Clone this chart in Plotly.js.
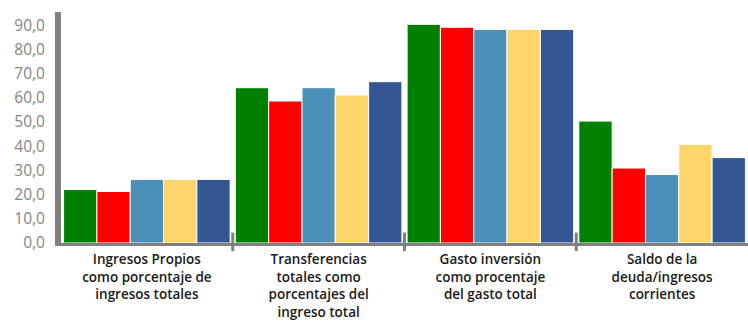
<!DOCTYPE html>
<html>
<head>
<meta charset="utf-8">
<script src="https://cdn.plot.ly/plotly-3.0.1.min.js"></script>
<style>html,body{margin:0;padding:0;background:#fff}#chart{width:748px;height:322px}</style>
</head>
<body>
<div id="chart"></div>
<script>
const categories = [
  "Ingresos Propios<br>como porcentaje de<br>ingresos totales",
  "Transferencias<br>totales como<br>porcentajes del<br>ingreso total",
  "Gasto inversión<br>como procentaje<br>del gasto total",
  "Saldo de la<br>deuda/ingresos<br>corrientes"
];
const series1 = [22.1, 64.2, 90.4, 50.4];
const series2 = [21.3, 58.7, 89.2, 31.0];
const series3 = [26.3, 64.2, 88.3, 28.3];
const series4 = [26.3, 61.2, 88.3, 40.8];
const series5 = [26.3, 66.7, 88.3, 35.3];
const colors = ["#008000", "#FF0000", "#4A90B8", "#FDD66A", "#345794"];
const allSeries = [series1, series2, series3, series4, series5];

const traces = allSeries.map((s, i) => ({
  type: "bar",
  x: categories,
  y: s,
  marker: {color: colors[i], line: {color: "#ffffff", width: 1}},
  hoverinfo: "y",
  showlegend: false
}));

const dividers = [0.5, 1.5, 2.5].map(v => ({
  type: "line", xref: "x", yref: "paper",
  x0: v, x1: v, y0: -0.035, y1: 0.045,
  line: {color: "#808080", width: 3}
}));

const layout = {
  width: 748, height: 322,
  margin: {l: 61, r: 0, t: 12, b: 79},
  paper_bgcolor: "#ffffff",
  plot_bgcolor: "rgba(0,0,0,0)",
  barmode: "group",
  bargap: 0.03,
  bargroupgap: 0,
  font: {family: "Open Sans, sans-serif"},
  xaxis: {
    type: "category",
    showline: true, linecolor: "#808080", linewidth: 3,
    ticks: "", showgrid: false, zeroline: false,
    tickfont: {family: "Open Sans", size: 13.5, color: "#1a1a1a", weight: 600},
    tickangle: 0,
    ticklabelstandoff: 2,
    fixedrange: true
  },
  yaxis: {
    range: [0, 95.5],
    dtick: 10, tick0: 0,
    tickformat: ".1f",
    showline: true, linecolor: "#808080", linewidth: 6,
    showgrid: false, zeroline: false, ticks: "",
    tickfont: {family: "Open Sans", size: 15.5, color: "#858585"},
    ticklabelstandoff: 7,
    fixedrange: true
  },
  separators: ",.",
  shapes: dividers
};

Plotly.newPlot("chart", traces, layout, {displayModeBar: false, staticPlot: true});
</script>
</body>
</html>
